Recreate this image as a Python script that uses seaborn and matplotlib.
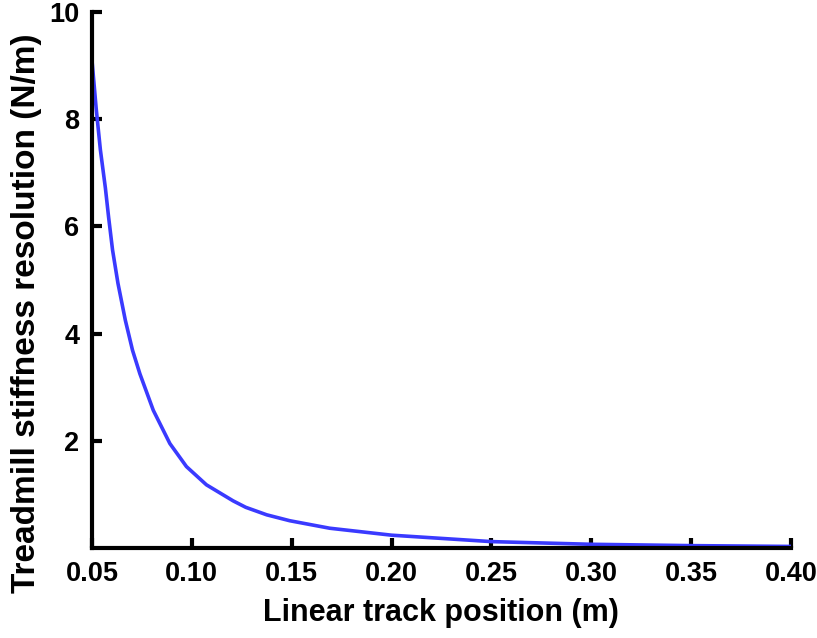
import matplotlib
matplotlib.use("Agg")
import matplotlib.pyplot as plt
import seaborn as sns
import pandas as pd

# Values
position_m = [0.0500, 0.0521, 0.0542, 0.0567, 0.0583, 0.0603, 0.0630, 0.0667,
              0.0703, 0.0740, 0.0807, 0.0890, 0.0973, 0.1073, 0.1207, 0.1270,
              0.1375, 0.1490, 0.1690, 0.2000, 0.2500, 0.3000, 0.3500, 0.4000]
resolution_Nm = [9.10, 8.20, 7.43, 6.72, 6.18, 5.56, 4.94, 4.25,
                 3.69, 3.25, 2.57, 1.95, 1.52, 1.18, 0.88, 0.76,
                 0.62, 0.51, 0.37, 0.24, 0.12, 0.07, 0.045, 0.03]
x_ticks = [0.05, 0.10, 0.15, 0.20, 0.25, 0.30, 0.35, 0.40]
x_tick_labels = ["0.05", "0.10", "0.15", "0.20", "0.25", "0.30", "0.35", "0.40"]
y_ticks = [2, 4, 6, 8, 10]
y_tick_labels = ["2", "4", "6", "8", "10"]

sns.set_style("ticks")
plt.rcParams['font.family'] = ['Liberation Sans', 'DejaVu Sans']
plt.rcParams['font.weight'] = 'bold'
plt.rcParams['text.color'] = 'black'
plt.rcParams['axes.labelcolor'] = 'black'
plt.rcParams['xtick.color'] = 'black'
plt.rcParams['ytick.color'] = 'black'

df = pd.DataFrame({"x": position_m, "y": resolution_Nm})

fig = plt.figure(figsize=(8.17, 6.38), dpi=100)
ax = fig.add_axes([0.1126, 0.141, 0.968 - 0.1126, 0.981 - 0.141])
sns.lineplot(data=df, x="x", y="y", ax=ax, color="#3a3aff", linewidth=2.6)

ax.set_xlim(0.05, 0.40)
ax.set_ylim(0, 10)
ax.set_xticks(x_ticks)
ax.set_xticklabels(x_tick_labels)
ax.set_yticks(y_ticks)
ax.set_yticklabels(y_tick_labels)

for s in ["top", "right"]:
    ax.spines[s].set_visible(False)
for s in ["left", "bottom"]:
    ax.spines[s].set_linewidth(3.0)
    ax.spines[s].set_color("black")

ax.tick_params(axis="both", direction="in", length=7, width=3.0, color="black",
               labelcolor="black", labelsize=19.5, pad=9)
for lab in ax.get_xticklabels() + ax.get_yticklabels():
    lab.set_fontweight("bold")
    lab.set_color("black")

ax.set_xlabel("Linear track position (m)", fontsize=22, fontweight="bold",
              labelpad=8, color="black")
ax.set_ylabel("Treadmill stiffness resolution (N/m)", fontsize=24, fontweight="bold",
              labelpad=8, color="black")
ax.yaxis.set_label_coords(-0.072, 0.4375)

fig.savefig("out.png", dpi=100)
